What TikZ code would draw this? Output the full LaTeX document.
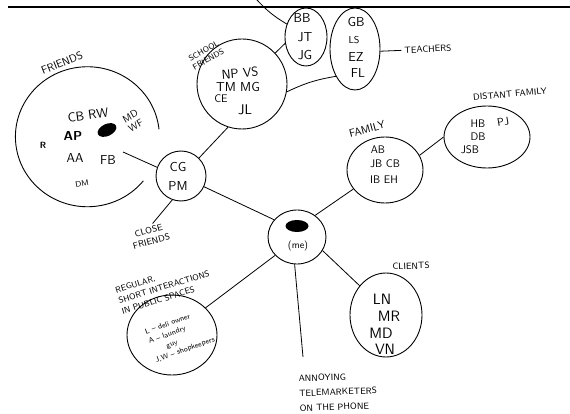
\documentclass[tikz,border=0pt]{standalone}
\usepackage{fontspec}
\usepackage{tikz}
\usetikzlibrary{shapes.geometric,positioning}

\begin{document}
\begin{tikzpicture}[x=1pt, y=-1pt,
grp/.style={draw, ellipse, line width=0.9pt, inner sep=0pt},
who/.style={font=\sffamily\fontsize{13}{14}\selectfont, inner sep=0pt},
tag/.style={font=\sffamily\fontsize{9}{10}\selectfont, inner sep=0pt, align=center},
note/.style={font=\sffamily\fontsize{7.5}{10}\selectfont, inner sep=0pt, align=left},
link/.style={line width=0.8pt},
blot/.style={fill=black, ellipse, inner sep=0pt}
]
\useasboundingbox (0,0) rectangle (570,414);

\draw[line width=1.8pt] (8,7) -- (570,7);

% groups
\node[grp, draw=none, minimum width=144pt, minimum height=140pt] (friends) at (87,137) {};
\draw[line width=0.9pt] (friends.6) arc[start angle=-6, end angle=-321, x radius=72, y radius=70];
\node[grp, minimum width=50pt, minimum height=50pt] (cg) at (181,176) {};
\node[grp, minimum width=90pt, minimum height=90pt] (school) at (242,84) {};
\node[grp, minimum width=42pt, minimum height=58pt] (bb) at (306,37) {};
\node[grp, minimum width=50pt, minimum height=82pt] (gb) at (355,49) {};
\node[grp, minimum width=86pt, minimum height=62pt] (dist) at (487,137) {};
\node[grp, minimum width=76pt, minimum height=66pt] (family) at (385,170) {};
\node[grp, minimum width=58pt, minimum height=54pt] (me) at (297,237) {};
\node[grp, minimum width=90pt, minimum height=80pt] (regular) at (172,335) {};
\node[grp, minimum width=72pt, minimum height=84pt] (clients) at (386,315) {};

% friends
\node[tag, font=\sffamily\fontsize{11}{12}\selectfont, rotate=22] (friendslbl) at (62,63) {FRIENDS};
\node[who, rotate=8] (cbrw) at (88,115) {CB RW};
\node[who, font=\sffamily\bfseries\fontsize{13}{14}\selectfont] (ap) at (73,136) {AP};
\node[who, font=\sffamily\bfseries\fontsize{9}{10}\selectfont] (rr) at (43,145) {R};
\node[blot, minimum width=20pt, minimum height=12pt, rotate=25] (blotf) at (107,130) {};
\node[who, font=\sffamily\fontsize{10}{11}\selectfont, align=center, rotate=30] (mdwf) at (133,121) {MD\\WF};
\node[who] (aa) at (75,158) {AA};
\node[who] (fb) at (108,160) {FB};
\node[who, font=\sffamily\fontsize{8}{9}\selectfont, rotate=10] (dm) at (82,184) {DM};
\coordinate (fin) at (123,152);

\node[who] (cgt) at (178,167) {CG};
\node[who] (pmt) at (178,186) {PM};
\node[tag, font=\sffamily\fontsize{9}{11}\selectfont, rotate=15] (closefr) at (150,236) {CLOSE\\FRIENDS};

% school and teachers
\node[tag, font=\sffamily\fontsize{8}{9.5}\selectfont, rotate=30] (schoollbl) at (206,55) {SCHOOL\\FRIENDS};
\node[who, rotate=5] (npvs) at (240,73) {NP VS};
\node[who] (tmmg) at (238,87) {TM MG};
\node[who, font=\sffamily\fontsize{11}{12}\selectfont] (ce) at (221,99) {CE};
\node[who, font=\sffamily\fontsize{14}{14}\selectfont] (jl) at (245,110) {JL};
\node[who] (bbt) at (302,18) {BB};
\node[who] (jt) at (305,37) {JT};
\node[who] (jg) at (305,55) {JG};
\node[who] (gbt) at (356,22) {GB};
\node[who, font=\sffamily\fontsize{10}{10}\selectfont] (ls) at (354,40) {LS};
\node[who] (ez) at (356,57) {EZ};
\node[who] (fl) at (358,73) {FL};
\node[tag, rotate=3] (teachers) at (428,49) {TEACHERS};
\coordinate (topend) at (257,0);

% family
\node[tag, rotate=5] (distlbl) at (510,94) {DISTANT FAMILY};
\node[who, font=\sffamily\fontsize{11}{12}\selectfont] (hb) at (478,124) {HB};
\node[who, font=\sffamily\fontsize{11}{12}\selectfont, rotate=10] (pj) at (503,122) {PJ};
\node[who, font=\sffamily\fontsize{11}{12}\selectfont] (db) at (478,137) {DB};
\node[who, font=\sffamily\fontsize{11}{12}\selectfont] (jsb) at (470,150) {JSB};
\node[tag, font=\sffamily\fontsize{11}{12}\selectfont, rotate=15] (familylbl) at (367,129) {FAMILY};
\node[who, font=\sffamily\fontsize{11}{12}\selectfont] (ab) at (378,150) {AB};
\node[who, font=\sffamily\fontsize{11}{12}\selectfont] (jbcb) at (385,164) {JB CB};
\node[who, font=\sffamily\fontsize{11}{12}\selectfont] (ibeh) at (384,180) {IB EH};

% me
\node[blot, minimum width=23pt, minimum height=12pt] (blotme) at (297,226) {};
\node[who, font=\sffamily\fontsize{10}{11}\selectfont] (met) at (298,246) {(me)};

% the others
\node[tag, font=\sffamily\fontsize{8.5}{11}\selectfont, align=left, rotate=17] (reglbl) at (164,287) {REGULAR,\\SHORT INTERACTIONS\\IN PUBLIC SPACES};
\node[note, rotate=20] (regt) at (180,336) {L -- deli owner\\A -- laundry\\\quad\quad guy\\J,W -- shopkeepers};
\node[tag, rotate=2] (clientslbl) at (411,266) {CLIENTS};
\node[who, font=\sffamily\fontsize{15}{15}\selectfont] (ln) at (382,299) {LN};
\node[who, font=\sffamily\fontsize{15}{15}\selectfont] (mr) at (389,316) {MR};
\node[who, font=\sffamily\fontsize{15}{15}\selectfont] (md) at (381,333) {MD};
\node[who, font=\sffamily\fontsize{15}{15}\selectfont] (vn) at (385,349) {VN};
\node[tag, align=left, font=\sffamily\fontsize{9}{15}\selectfont, rotate=2] (tele) at (338,392) {ANNOYING\\TELEMARKETERS\\ON THE PHONE};
\coordinate (teleend) at (303,357);

% links
\draw[link] (fin) -- (cg.160);
\draw[link] (school.252) -- (cg.45);
\draw[link] (cg.-25) -- (me.143);
\draw[link, shorten >=4pt] (cg.250) -- (closefr.75);
\draw[link] (school.43) -- (bb.197);
\draw[link] (school.-10) to[bend left=8] (gb.235);
\draw[link] (topend) to[bend right=8] (bb.146);
\draw[link, shorten >=3pt] (gb.-5) -- (teachers.west);
\draw[link] (me.50) -- (family.211);
\draw[link] (family.23) -- (dist.180);
\draw[link] (me.220) -- (regular.39);
\draw[link] (me.265) -- (teleend);
\draw[link] (me.-28) -- (clients.132);

\end{tikzpicture}
\end{document}
